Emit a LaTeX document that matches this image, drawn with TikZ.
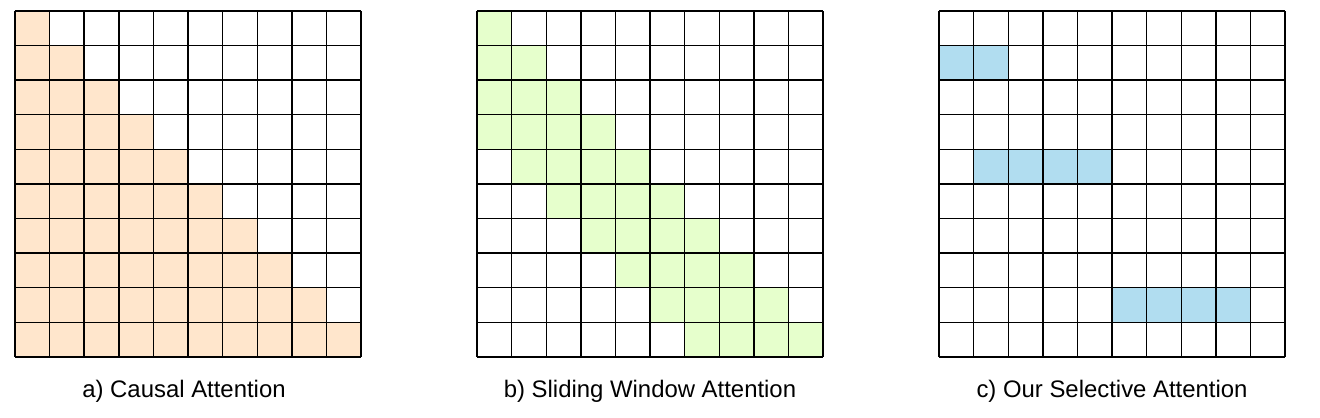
\documentclass[tikz,border=0pt]{standalone}
\usepackage{fontspec}
\setmainfont{Liberation Sans}
\usepackage{xcolor}
\usetikzlibrary{positioning}
\definecolor{causalfill}{HTML}{FFE6CC}
\definecolor{slidefill}{HTML}{E6FFCC}
\definecolor{selectfill}{HTML}{B1DDF0}
\tikzset{gridline/.style={line width=0.8pt, black},
         caption/.style={anchor=base, inner sep=0pt, font=\fontsize{13.6pt}{16pt}\selectfont}}

\begin{document}
\begin{tikzpicture}[x=0.692cm, y=0.692cm]
            \useasboundingbox (0, 0) rectangle (38.15, 12.08);
            % a) causal
            \begin{scope}[shift={(0.4335, 1.763)}]
                \foreach \r in {0,...,9}
                    \fill[causalfill] (0, 9-\r) rectangle (\r+1, 10-\r);
                \draw[gridline, step={(1,1)}] (0, 0) grid (10, 10);
            \end{scope}
            % b) sliding window
            \begin{scope}[shift={(13.786, 1.763)}]
                \foreach \r/\s in {0/0, 1/0, 2/0, 3/0, 4/1, 5/2, 6/3, 7/4, 8/5, 9/6}
                    \fill[slidefill] (\s, 9-\r) rectangle (\r+1, 10-\r);
                \draw[gridline, step={(1,1)}] (0, 0) grid (10, 10);
            \end{scope}
            % c) selective
            \begin{scope}[shift={(27.139, 1.763)}]
                \foreach \r/\s/\e in {1/0/1, 4/1/4, 8/5/8}
                    \fill[selectfill] (\s, 9-\r) rectangle (\e+1, 10-\r);
                \draw[gridline, step={(1,1)}] (0, 0) grid (10, 10);
            \end{scope}
            \node[caption] (capcausal) at (5.318, 0.578) {a) Causal Attention};
            \node[caption] (capsliding) at (18.786, 0.578) {b) Sliding Window Attention};
            \node[caption] (capselective) at (32.139, 0.578) {c) Our Selective Attention};
        \end{tikzpicture}
\end{document}
